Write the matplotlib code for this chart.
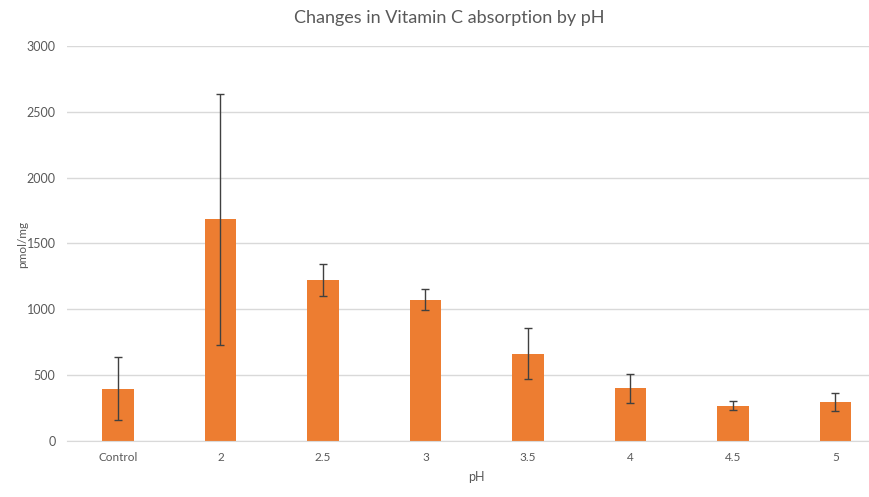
import matplotlib.pyplot as plt
import numpy as np

# values
categories = ["Control", "2", "2.5", "3", "3.5", "4", "4.5", "5"]
means = [392, 1682, 1220, 1073, 660, 397, 267, 295]
err_upper = [634, 2632, 1341, 1156, 858, 509, 302, 365]
err_lower = [160, 728, 1102, 992, 470, 288, 236, 223]

plt.rcParams["font.family"] = ["Lato", "DejaVu Sans"]

TEXT = "#595959"
BAR = "#ED7D31"

fig = plt.figure(figsize=(8.69, 4.97), dpi=100)
ax = fig.add_axes([66.7 / 869, 56.3 / 497, 820 / 869, 394.7 / 497])

x = np.arange(len(categories))
means_arr = np.array(means)
yerr = np.vstack([means_arr - np.array(err_lower), np.array(err_upper) - means_arr])

ax.bar(x, means_arr, width=0.31, color=BAR, zorder=2)
ax.errorbar(x, means_arr, yerr=yerr, fmt="none", ecolor="#404040",
            elinewidth=1.0, capsize=3, capthick=1.0, zorder=3)

ax.set_xlim(-0.5, len(categories) - 0.5)
ax.set_ylim(0, 3000)
ax.set_yticks(np.arange(0, 3001, 500))
ax.set_xticks(x)
ax.set_xticklabels(categories)

ax.grid(True, axis="y", color="#D9D9D9", linewidth=1.0, zorder=0)
for side in ["top", "right", "left"]:
    ax.spines[side].set_visible(False)
ax.spines["bottom"].set_color("#D9D9D9")
ax.tick_params(axis="x", length=0, colors=TEXT, labelsize=8.5, pad=8)
ax.tick_params(axis="y", length=0, colors=TEXT, labelsize=9, pad=8)

ax.set_xlabel("pH", color=TEXT, fontsize=9, labelpad=6)
fig.text(23 / 869, 1 - 244 / 497, "pmol/mg", rotation=90, ha="center",
         va="center", color=TEXT, fontsize=8.5)
fig.text(449 / 869, 1 - 18 / 497, "Changes in Vitamin C absorption by pH",
         ha="center", va="center", color=TEXT, fontsize=13)

fig.savefig("out.png", dpi=100)
